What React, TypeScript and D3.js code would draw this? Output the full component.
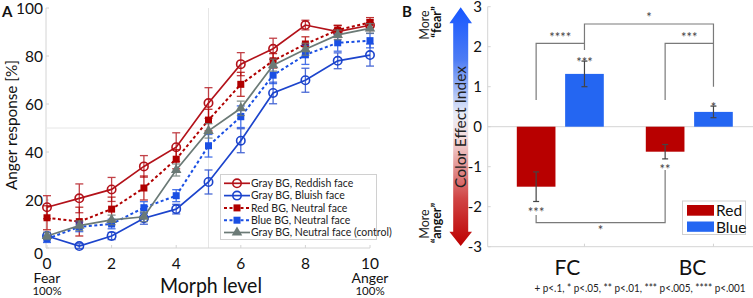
import React from "react";
import * as d3 from "d3";

// ---------- Panel A data ----------
const morphLevels = [0, 1, 2, 3, 4, 5, 6, 7, 8, 9, 10];
const xTicksA = [0, 2, 4, 6, 8, 10];
const yTicksA = [0, 20, 40, 60, 80, 100];
const reddishFace = [17, 20.7, 24.4, 34, 42, 60.4, 76.6, 83, 92.9, 90.2, 92.8];
const reddishFaceErr = [4.8, 6, 5, 4.5, 6, 6.4, 4.8, 4.4, 2, 2.5, 2.2];
const bluishFace = [5, 0.8, 5, 12.4, 16.2, 27.5, 44.7, 64.6, 69.9, 78, 80.4];
const bluishFaceErr = [1.5, 1, 1.5, 2.5, 2, 5, 5, 4.5, 5, 3.3, 4.6];
const redBG = [12.6, 11, 16.2, 25, 37, 53.3, 68.2, 78, 85, 90.8, 94];
const redBGErr = [5, 6, 5, 5, 4, 4.5, 5, 3, 3, 2, 2];
const blueBG = [3.8, 8.8, 10, 16.8, 21.8, 42.6, 54.7, 72, 80.5, 85.5, 86.4];
const blueBGErr = [1.5, 2, 2, 2.5, 2.5, 4.7, 4.5, 3.5, 4, 3.5, 3];
const controlFace = [5, 9.3, 11.7, 13, 32.5, 48.8, 58.2, 76.2, 82.8, 88.8, 91.5];
const controlFaceErr = [1.5, 2, 2, 2, 2.5, 3, 3, 2.5, 2.5, 2, 2];
const seriesLabels = [
  "Gray BG, Reddish face",
  "Gray BG, Bluish face",
  "Red BG, Neutral face",
  "Blue BG, Neutral face",
  "Gray BG, Neutral face (control)",
];

// ---------- Panel B data ----------
const conditions = ["FC", "BC"];
const colorGroups = ["Red", "Blue"];
const redIndex = [-1.5, -0.625];
const redIndexErr = [0.37, 0.18];
const blueIndex = [1.32, 0.37];
const blueIndexErr = [0.32, 0.145];
const yTicksB = [-3, -2, -1, 0, 1, 2, 3];
const redStars = ["***", "**"];
const blueStars = ["***", "*"];

const FONT = "Lato, 'Open Sans', sans-serif";
const RED_L = "#b3121a";
const BLUE_L = "#1c44cc";
const RED_SQ = "#b00000";
const BLUE_SQ = "#1a4fe3";
const GRAY_L = "#6b7a76";
const BAR_RED = "#b80000";
const BAR_BLUE = "#2466f2";
const AXIS = "#d4d4d4";
const BRK = "#7a7a7a";

type Series = {
  vals: number[];
  err: number[];
  color: string;
  marker: "circle" | "square" | "triangle";
  dash?: string;
};

const seriesA: Series[] = [
  { vals: reddishFace, err: reddishFaceErr, color: RED_L, marker: "circle" },
  { vals: bluishFace, err: bluishFaceErr, color: BLUE_L, marker: "circle" },
  { vals: redBG, err: redBGErr, color: RED_SQ, marker: "square", dash: "3,2.5" },
  { vals: blueBG, err: blueBGErr, color: BLUE_SQ, marker: "square", dash: "3,2.5" },
  { vals: controlFace, err: controlFaceErr, color: GRAY_L, marker: "triangle" },
];

function Marker({ x, y, s }: { x: number; y: number; s: Series }) {
  if (s.marker === "circle")
    return <circle cx={x} cy={y} r={4.2} fill="white" fillOpacity={0} stroke={s.color} strokeWidth={1.6} />;
  if (s.marker === "square")
    return <rect x={x - 3.5} y={y - 3.5} width={7} height={7} fill={s.color} />;
  const sym = d3.symbol(d3.symbolTriangle, 48)();
  return <path d={sym as string} transform={`translate(${x},${y})`} fill={s.color} />;
}

export default function App() {
  // Panel A scales
  const xA = d3.scaleLinear().domain([0, 10]).range([47, 370]);
  const yA = d3.scaleLinear().domain([0, 100]).range([248, 8]);
  const line = (vals: number[]) =>
    d3
      .line<number>()
      .x((_, i) => xA(morphLevels[i]))
      .y((v) => yA(v))(vals) as string;

  // Panel B scales
  const yB = d3.scaleLinear().domain([-3, 3]).range([246.7, 6.7]);
  const xGroup = d3.scalePoint<string>().domain(conditions).range([560.3, 689.3]);
  const xInner = d3.scaleBand<string>().domain(colorGroups).range([-43.5, 43.5]).paddingInner(0.2);
  const bw = xInner.bandwidth();
  const barCx = (c: string, g: string) => (xGroup(c) as number) + (xInner(g) as number) + bw / 2;

  const fcR = barCx("FC", "Red");
  const fcB = barCx("FC", "Blue");
  const bcR = barCx("BC", "Red");
  const bcB = barCx("BC", "Blue");

  const legendY = [183.3, 195.6, 207.9, 220.2, 232.5];

  return (
    <svg
      width={753}
      height={298}
      style={{ position: "absolute", left: 0, top: 0, background: "white" }}
      fontFamily={FONT}
    >
      <defs>
        <linearGradient id="arrowGrad" x1="0" y1="0" x2="0" y2="1">
          <stop offset="0%" stopColor="#1656ff" />
          <stop offset="22%" stopColor="#4d7cf4" />
          <stop offset="45%" stopColor="#e9edf8" />
          <stop offset="55%" stopColor="#f4dada" />
          <stop offset="80%" stopColor="#d04545" />
          <stop offset="100%" stopColor="#bd0000" />
        </linearGradient>
      </defs>

      {/* ================= Panel A ================= */}
      <text x={2} y={17} fontSize={15} fontWeight="bold" fill="#111">A</text>
      {/* grid */}
      <line x1={xA(5)} x2={xA(5)} y1={yA(100)} y2={yA(0)} stroke="#e6e6e6" strokeWidth={1} />
      <line x1={xA(0)} x2={xA(10)} y1={yA(50)} y2={yA(50)} stroke="#e6e6e6" strokeWidth={1} />
      {/* axes */}
      <line x1={xA(0) - 1} x2={xA(0) - 1} y1={yA(100)} y2={yA(0)} stroke={AXIS} />
      <line x1={xA(0) - 1} x2={xA(10)} y1={yA(0)} y2={yA(0)} stroke={AXIS} />
      {xTicksA.map((t) => (
        <g key={"xt" + t}>
          <line x1={xA(t)} x2={xA(t)} y1={yA(0)} y2={yA(0) - 3} stroke={AXIS} />
          <text x={xA(t)} y={yA(0) + 21} fontSize={15.5} textAnchor="middle" fill="#111">{t}</text>
        </g>
      ))}
      {yTicksA.map((t) => (
        <g key={"yt" + t}>
          <line x1={xA(0) - 1} x2={xA(0) + 2} y1={yA(t)} y2={yA(t)} stroke={AXIS} />
          <text x={43} y={yA(t) + (t === 0 ? 11 : 5.5)} fontSize={15.5} textAnchor="end" fill="#111">{t}</text>
        </g>
      ))}
      <text x={xA(0)} y={283} fontSize={14} textAnchor="middle" fill="#111">Fear</text>
      <text x={xA(0)} y={295} fontSize={11.5} textAnchor="middle" fill="#111">100%</text>
      <text x={xA(10)} y={283} fontSize={14} textAnchor="middle" fill="#111">Anger</text>
      <text x={xA(10)} y={295} fontSize={11.5} textAnchor="middle" fill="#111">100%</text>
      <text x={211} y={293} fontSize={21} textAnchor="middle" fill="#111" textLength={102} lengthAdjust="spacingAndGlyphs">Morph level</text>
      <text transform="translate(17,125) rotate(-90)" fontSize={15} textAnchor="middle" fill="#111" textLength={130} lengthAdjust="spacingAndGlyphs">Anger response [%]</text>

      {/* series */}
      {seriesA.map((s, si) => (
        <g key={"s" + si}>
          <path d={line(s.vals)} fill="none" stroke={s.color} strokeWidth={s.dash ? 2 : 1.7} strokeDasharray={s.dash} />
          {s.vals.map((v, i) => {
            const x = xA(morphLevels[i]);
            const y0 = yA(v - s.err[i]);
            const y1 = yA(v + s.err[i]);
            return (
              <g key={i} stroke={s.color} strokeWidth={1.3} opacity={0.8}>
                <line x1={x} x2={x} y1={y0} y2={y1} />
                <line x1={x - 4} x2={x + 4} y1={y0} y2={y0} />
                <line x1={x - 4} x2={x + 4} y1={y1} y2={y1} />
              </g>
            );
          })}
          {s.vals.map((v, i) => (
            <Marker key={"m" + i} x={xA(morphLevels[i])} y={yA(v)} s={s} />
          ))}
        </g>
      ))}

      {/* legend A */}
      <rect x={220.5} y={174.5} width={156} height={65} fill="white" stroke="#d0d0d0" />
      {seriesA.map((s, i) => (
        <g key={"lg" + i}>
          <line x1={224} x2={250} y1={legendY[i]} y2={legendY[i]} stroke={s.color} strokeWidth={s.dash ? 2 : 1.7} strokeDasharray={s.dash} />
          <Marker x={237} y={legendY[i]} s={s} />
          <text x={251} y={legendY[i] + 3.8} fontSize={10.5} fill="#222">{seriesLabels[i]}</text>
        </g>
      ))}

      {/* ================= Panel B ================= */}
      <text x={402} y={17} fontSize={15} fontWeight="bold" fill="#111">B</text>
      {/* arrow */}
      <path
        d={`M460.7,7.3 L472,23.3 L468.2,23.3 L468.2,231.7 L472,231.7 L460.7,246 L449.4,231.7 L453.2,231.7 L453.2,23.3 L449.4,23.3 Z`}
        fill="url(#arrowGrad)"
      />
      <text transform="translate(466,127) rotate(-90)" fontSize={15.5} textAnchor="middle" fill="#222" textLength={122} lengthAdjust="spacingAndGlyphs">Color Effect Index</text>
      <text transform="translate(429,25) rotate(-90)" fontSize={12.5} textAnchor="middle" fill="#222">More</text>
      <text transform="translate(440.5,22) rotate(-90)" fontSize={12.5} fontWeight="bold" textAnchor="middle" fill="#111">“fear”</text>
      <text transform="translate(429,224) rotate(-90)" fontSize={12.5} textAnchor="middle" fill="#222">More</text>
      <text transform="translate(440.5,223) rotate(-90)" fontSize={12.5} fontWeight="bold" textAnchor="middle" fill="#111">“anger”</text>

      {/* axes B */}
      <line x1={487.7} x2={487.7} y1={yB(3)} y2={yB(-3)} stroke={AXIS} />
      <line x1={487.7} x2={753} y1={yB(-3)} y2={yB(-3)} stroke={AXIS} />
      <line x1={487.7} x2={753} y1={yB(0)} y2={yB(0)} stroke={AXIS} />
      {yTicksB.map((t) => (
        <g key={"yb" + t}>
          <line x1={487.7} x2={490.7} y1={yB(t)} y2={yB(t)} stroke={AXIS} />
          <text x={482} y={yB(t) + 5.5} fontSize={15} textAnchor="end" fill="#111">{t}</text>
        </g>
      ))}
      {[fcB, bcB].map((x, i) => (
        <line key={"bt" + i} x1={x} x2={x} y1={yB(-3)} y2={yB(-3) - 3} stroke={AXIS} />
      ))}
      <text x={567.5} y={275} fontSize={21} textAnchor="middle" fill="#111">FC</text>
      <text x={692.5} y={275} fontSize={21} textAnchor="middle" fill="#111">BC</text>
      <text x={640} y={292} fontSize={10.5} textAnchor="middle" fill="#222" textLength={211} lengthAdjust="spacingAndGlyphs">+ p&lt;.1, * p&lt;.05, ** p&lt;.01, *** p&lt;.005, **** p&lt;.001</text>

      {/* bars */}
      {conditions.map((c, i) => (
        <g key={"bar" + c}>
          <rect
            x={(xGroup(c) as number) + (xInner("Red") as number)}
            y={yB(0)}
            width={bw}
            height={yB(redIndex[i]) - yB(0)}
            fill={BAR_RED}
          />
          <rect
            x={(xGroup(c) as number) + (xInner("Blue") as number)}
            y={yB(blueIndex[i])}
            width={bw}
            height={yB(0) - yB(blueIndex[i])}
            fill={BAR_BLUE}
          />
        </g>
      ))}
      {/* error bars */}
      {conditions.map((c, i) => {
        const items = [
          { x: barCx(c, "Red"), v: redIndex[i], e: redIndexErr[i] },
          { x: barCx(c, "Blue"), v: blueIndex[i], e: blueIndexErr[i] },
        ];
        return items.map((it, j) => (
          <g key={c + j} stroke="#444" strokeWidth={1.2}>
            <line x1={it.x} x2={it.x} y1={yB(it.v - it.e)} y2={yB(it.v + it.e)} />
            <line x1={it.x - 3} x2={it.x + 3} y1={yB(it.v - it.e)} y2={yB(it.v - it.e)} />
            <line x1={it.x - 3} x2={it.x + 3} y1={yB(it.v + it.e)} y2={yB(it.v + it.e)} />
          </g>
        ));
      })}
      {/* star labels on bars */}
      {conditions.map((c, i) => (
        <g key={"st" + c} fontSize={13} fill="#444" textAnchor="middle">
          <text x={barCx(c, "Blue")} y={yB(blueIndex[i] + blueIndexErr[i]) + 6}>{blueStars[i]}</text>
          <text x={barCx(c, "Red")} y={yB(redIndex[i] - redIndexErr[i]) + 15}>{redStars[i]}</text>
        </g>
      ))}

      {/* brackets */}
      <g fill="none" stroke={BRK} strokeWidth={1.2}>
        <path d={`M${fcR},100 V43.3 H${fcB} V50`} />
        <path d={`M${bcR},100 V43.3 H${bcB}`} />
        <path d={`M${fcB},43.3 V24 H${bcB} V86.7`} />
        <path d={`M${fcR},215 V222.7 H${bcR} V170`} />
      </g>
      <g fontSize={13} fill="#444" textAnchor="middle">
        <text x={(fcR + fcB) / 2} y={42}>****</text>
        <text x={(bcR + bcB) / 2} y={42}>***</text>
        <text x={(fcB + bcB) / 2} y={22}>*</text>
        <text x={(fcR + bcR) / 2} y={235}>*</text>
      </g>

      {/* legend B */}
      <rect x={682.5} y={201} width={63} height={33.5} fill="white" stroke="#d0d0d0" />
      <rect x={687} y={205} width={27} height={10.7} fill={BAR_RED} />
      <rect x={687} y={221.5} width={27} height={10.3} fill={BAR_BLUE} />
      <text x={716} y={216} fontSize={15.5} fill="#111">{colorGroups[0]}</text>
      <text x={716} y={232.5} fontSize={15.5} fill="#111">{colorGroups[1]}</text>
    </svg>
  );
}
